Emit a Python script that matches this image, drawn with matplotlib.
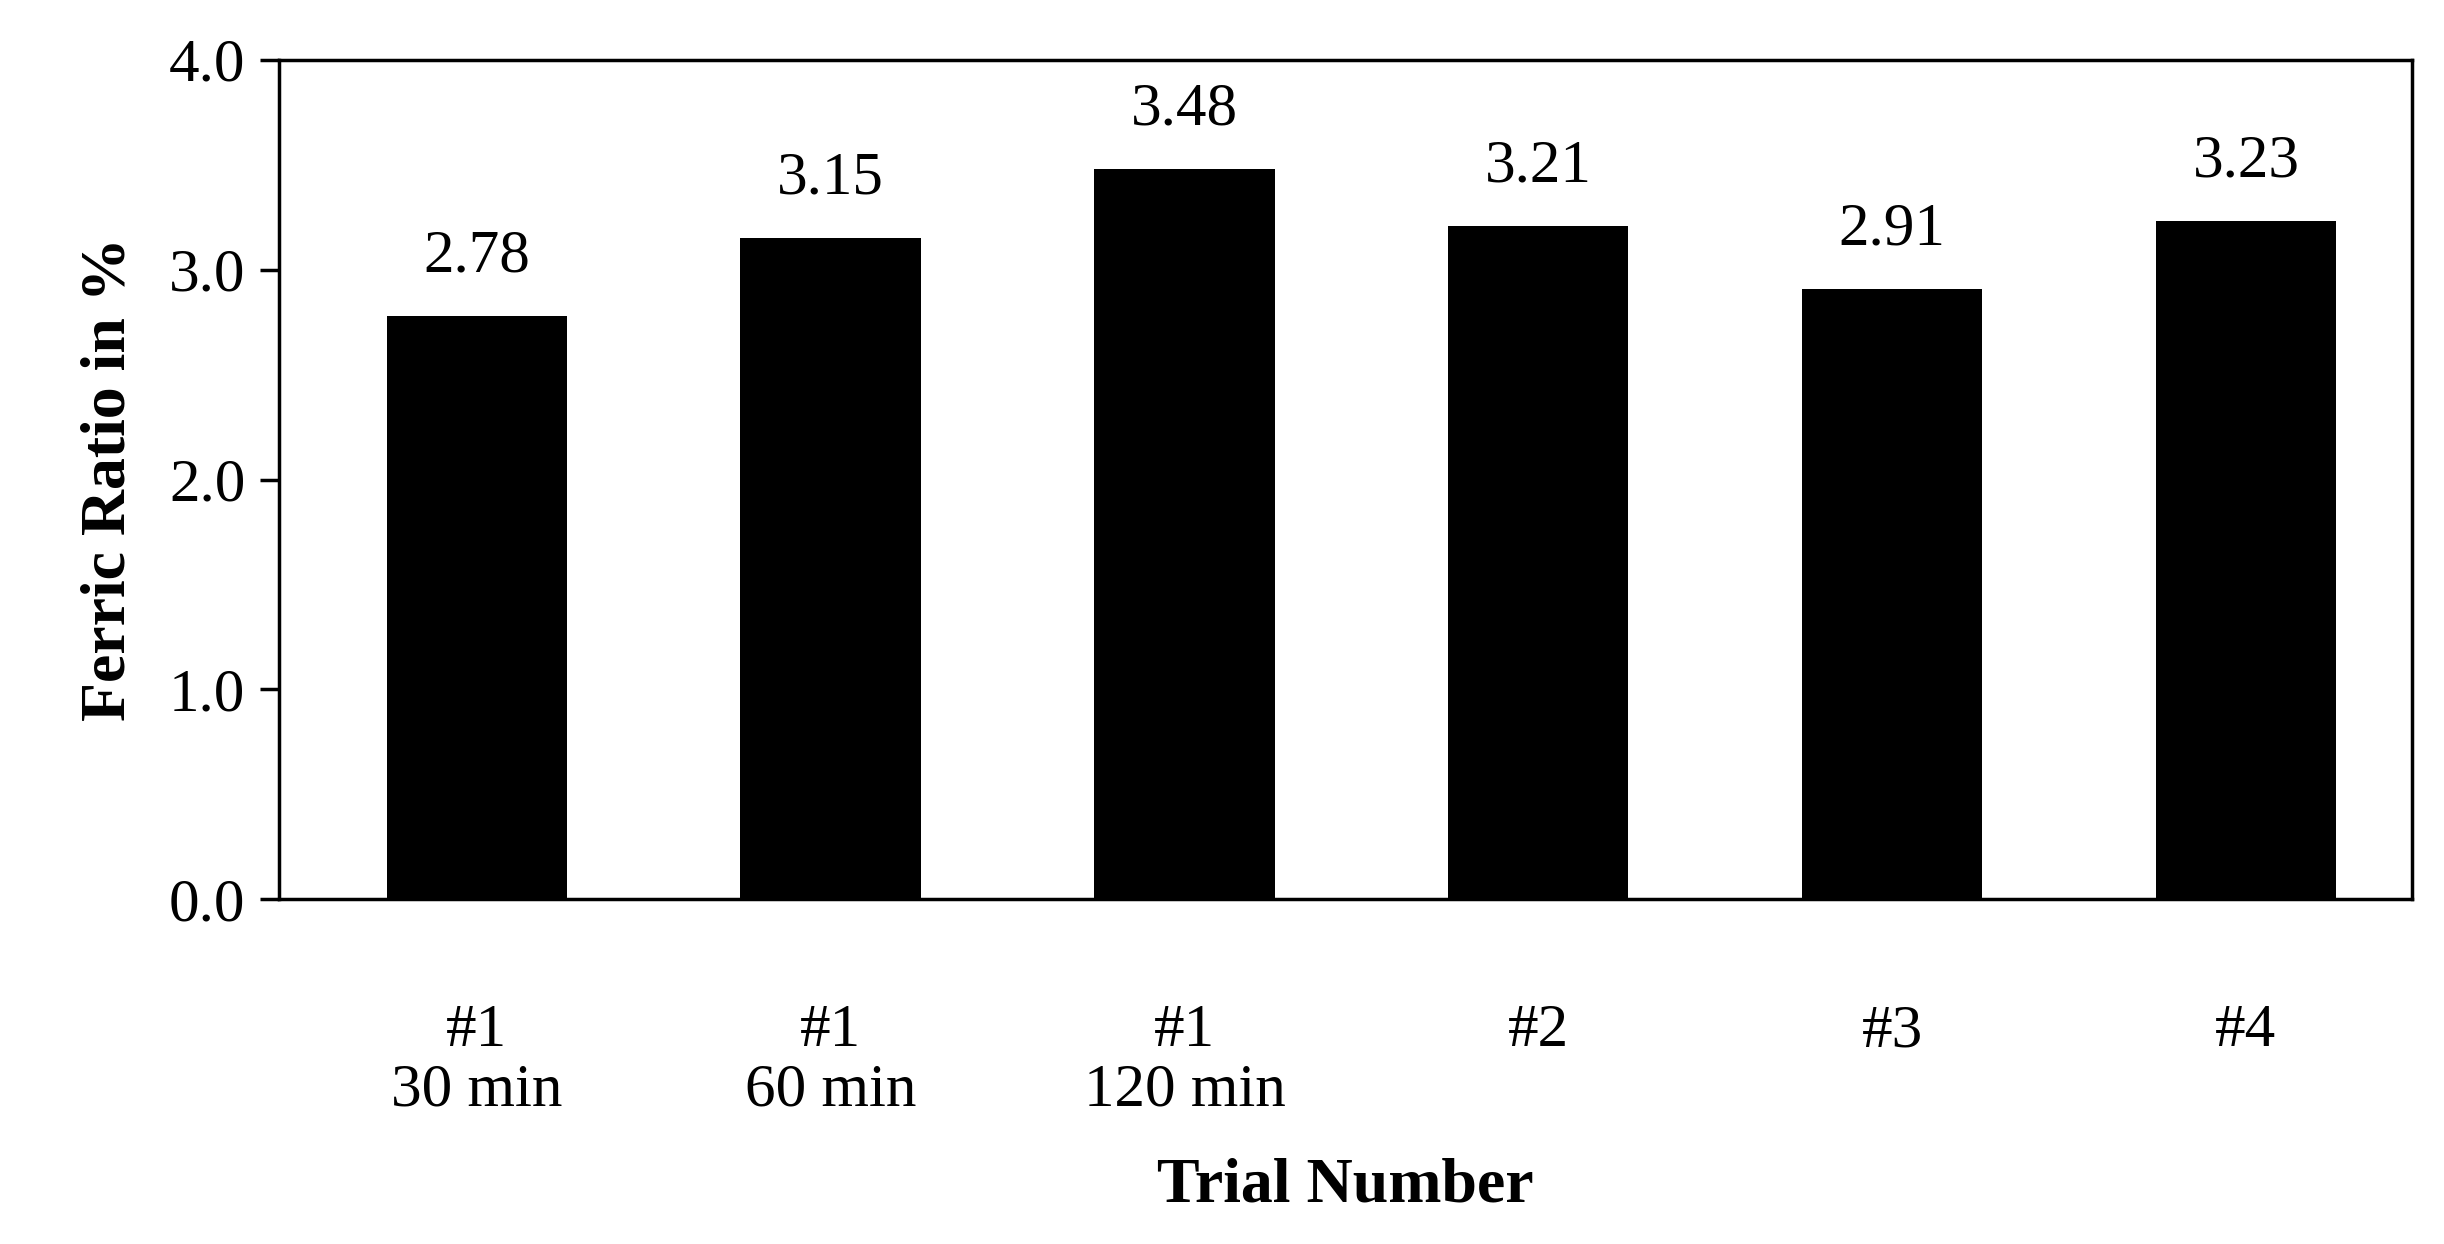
import matplotlib.pyplot as plt

labels = ['#1\n30 min', '#1\n60 min', '#1\n120 min', '#2', '#3', '#4']
values = [2.78, 3.15, 3.48, 3.21, 2.91, 3.23]

plt.rcParams['font.family'] = ['Liberation Serif', 'DejaVu Serif']

fig = plt.figure(figsize=(24.44, 12.44), dpi=100)
ax = fig.add_axes([0.114, 0.277, 0.873, 0.675])

x = range(len(values))
ax.bar(x, values, width=0.51, color='black')
for i, v in zip(x, values):
    ax.text(i, v + 0.15, f'{v:.2f}', ha='center', va='bottom', fontsize=44)

ax.set_xlim(-0.56, 5.47)
ax.set_ylim(0, 4.0)
ax.set_yticks([0, 1, 2, 3, 4])
ax.set_yticklabels([f'{t:.1f}' for t in [0, 1, 2, 3, 4]], fontsize=44)
ax.set_xticks(list(x))
ax.set_xticklabels(labels, fontsize=44, linespacing=1.1, va='top')
ax.tick_params(axis='x', length=0, pad=75)
ax.tick_params(axis='y', direction='out', length=14, width=2.5, pad=10)
for s in ax.spines.values():
    s.set_linewidth(2.5)

ax.set_xlabel('Trial Number', fontsize=46, fontweight='bold', labelpad=28)
ax.set_ylabel('Ferric Ratio in %', fontsize=46, fontweight='bold', labelpad=22)

fig.savefig('out.png', dpi=100)
